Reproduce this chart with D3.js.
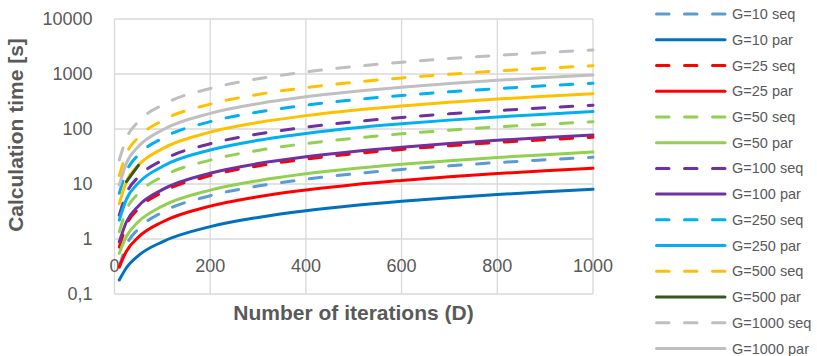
<!DOCTYPE html>
<html>
<head>
<meta charset="utf-8">
<script src="https://cdn.jsdelivr.net/npm/d3@7"></script>
<style>
  body { margin: 0; background: #fff; }
  svg { display: block; font-family: 'Liberation Sans', Arial, sans-serif; }
</style>
</head>
<body>
<div id="chart"></div>
<script>
// iterations D
const iterations = [10, 25, 50, 100, 200, 300, 400, 500, 600, 700, 800, 900, 1000];

const g10seq = [0.31, 0.77, 1.53, 3.06, 6.12, 9.18, 12.2, 15.3, 18.4, 21.4, 24.5, 27.5, 30.6];
const g10par = [0.18, 0.3, 0.5, 0.89, 1.68, 2.47, 3.26, 4.05, 4.84, 5.63, 6.42, 7.21, 8.0];
const g25seq = [0.71, 1.78, 3.55, 7.1, 14.2, 21.3, 28.4, 35.5, 42.6, 49.7, 56.8, 63.9, 71];
const g25par = [0.31, 0.6, 1.08, 2.04, 3.96, 5.88, 7.8, 9.72, 11.6, 13.6, 15.5, 17.4, 19.3];
const g50seq = [1.36, 3.4, 6.8, 13.6, 27.2, 40.8, 54.4, 68, 81.6, 95.2, 109, 122, 136];
const g50par = [0.55, 1.12, 2.06, 3.95, 7.73, 11.5, 15.3, 19.1, 22.9, 26.6, 30.4, 34.2, 38];
const g100seq = [2.7, 6.75, 13.5, 27, 54, 81, 108, 135, 162, 189, 216, 243, 270];
const g100par = [0.89, 2.06, 4.0, 7.9, 15.7, 23.5, 31.3, 39.1, 46.8, 54.6, 62.4, 70.2, 78];
const g250seq = [6.8, 17, 33.9, 67.8, 136, 203, 271, 339, 407, 475, 542, 610, 678];
const g250par = [2.2, 5.3, 10.4, 20.8, 41.5, 62.2, 82.9, 104, 124, 145, 166, 186, 207];
const g500seq = [14.2, 35.4, 70.8, 142, 283, 425, 566, 708, 849, 991, 1132, 1274, 1415];
const g500par = [4.4, 11, 21.9, 43.8, 87.6, 131, 175, 219, 263, 307, 350, 394, 438];
const g1000seq = [27.3, 68, 137, 273, 546, 819, 1092, 1365, 1638, 1911, 2184, 2457, 2730];
const g1000par = [9.6, 24, 48, 96, 192, 288, 384, 480, 576, 672, 768, 864, 960];

// G=500 par: points 1..2 are drawn in the legend colour, the rest in orange
const g500parGreenPoints = [1, 2];

const xTicks = [0, 200, 400, 600, 800, 1000];
const yTicks = [0.1, 1, 10, 100, 1000, 10000];

const series = [
  { name: 'G=10 seq', values: g10seq, color: '#5B9BD5', dashed: true },
  { name: 'G=10 par', values: g10par, color: '#0070C0', dashed: false },
  { name: 'G=25 seq', values: g25seq, color: '#FF0000', dashed: true },
  { name: 'G=25 par', values: g25par, color: '#FF0000', dashed: false },
  { name: 'G=50 seq', values: g50seq, color: '#92D050', dashed: true },
  { name: 'G=50 par', values: g50par, color: '#92D050', dashed: false },
  { name: 'G=100 seq', values: g100seq, color: '#7030A0', dashed: true },
  { name: 'G=100 par', values: g100par, color: '#7030A0', dashed: false },
  { name: 'G=250 seq', values: g250seq, color: '#00B0F0', dashed: true },
  { name: 'G=250 par', values: g250par, color: '#00B0F0', dashed: false },
  { name: 'G=500 seq', values: g500seq, color: '#FFC000', dashed: true },
  { name: 'G=500 par', values: g500par, color: '#375623', lineColor: '#FFC000', dashed: false, greenPts: g500parGreenPoints },
  { name: 'G=1000 seq', values: g1000seq, color: '#BFBFBF', dashed: true },
  { name: 'G=1000 par', values: g1000par, color: '#BFBFBF', dashed: false },
];

const width = 817;
const height = 356;
const plot = { left: 114.5, right: 593, top: 19, bottom: 294 };
const textColor = '#595959';
const gridColor = '#D9D9D9';
const dash = '12.5 15.5';

const svg = d3.select('#chart').append('svg').attr('width', width).attr('height', height);

const x = d3.scaleLinear().domain([0, 1000]).range([plot.left, plot.right]);
const y = d3.scaleLog().domain([0.1, 10000]).range([plot.bottom, plot.top]);

// gridlines
svg.append('g')
  .selectAll('line')
  .data(yTicks)
  .join('line')
  .attr('x1', plot.left)
  .attr('x2', plot.right)
  .attr('y1', (d) => y(d))
  .attr('y2', (d) => y(d))
  .attr('stroke', gridColor)
  .attr('stroke-width', 1.3);

svg.append('g')
  .selectAll('line')
  .data(xTicks)
  .join('line')
  .attr('x1', (d) => x(d))
  .attr('x2', (d) => x(d))
  .attr('y1', plot.top)
  .attr('y2', plot.bottom)
  .attr('stroke', gridColor)
  .attr('stroke-width', 1.3);

// y axis labels
const fmt = (d) => (d < 1 ? String(d).replace('.', ',') : d3.format('d')(d));
svg.append('g')
  .selectAll('text')
  .data(yTicks)
  .join('text')
  .attr('x', 92.5)
  .attr('y', (d) => y(d))
  .attr('dy', '0.35em')
  .attr('text-anchor', 'end')
  .attr('fill', textColor)
  .style('font-size', '18px')
  .text(fmt);

// x axis labels sit next to the axis crossing at 1
svg.append('g')
  .selectAll('text')
  .data(xTicks)
  .join('text')
  .attr('x', (d) => x(d))
  .attr('y', y(1) + 27)
  .attr('dy', '0.35em')
  .attr('text-anchor', 'middle')
  .attr('fill', textColor)
  .style('font-size', '18px')
  .text((d) => d);

// axis titles
svg.append('text')
  .attr('transform', 'translate(16,135) rotate(-90)')
  .attr('text-anchor', 'middle')
  .attr('dy', '0.35em')
  .attr('fill', textColor)
  .style('font-size', '21px')
  .style('font-weight', 'bold')
  .text('Calculation time [s]');

svg.append('text')
  .attr('x', 353.5)
  .attr('y', 313)
  .attr('dy', '0.35em')
  .attr('text-anchor', 'middle')
  .attr('fill', textColor)
  .style('font-size', '21px')
  .style('font-weight', 'bold')
  .text('Number of iterations (D)');

// lines
const line = d3.line()
  .x((d) => x(d[0]))
  .y((d) => y(d[1]))
  .curve(d3.curveMonotoneX);

const lines = svg.append('g').attr('fill', 'none');
series.forEach((s) => {
  const pts = iterations.map((d, i) => [d, s.values[i]]);
  lines.append('path')
    .attr('d', line(pts))
    .attr('stroke', s.lineColor || s.color)
    .attr('stroke-width', 3)
    .attr('stroke-linecap', 'round')
    .attr('stroke-dasharray', s.dashed ? dash : null);
  if (s.greenPts) {
    const seg = pts.slice(s.greenPts[0], s.greenPts[s.greenPts.length - 1] + 1);
    lines.append('path')
      .attr('d', line(seg))
      .attr('stroke', s.color)
      .attr('stroke-width', 3)
      .attr('stroke-linecap', 'round');
  }
});

// legend
const legend = svg.append('g');
const itemY = d3.scaleLinear().domain([0, series.length - 1]).range([14, 348.5]);
series.forEach((s, i) => {
  const yy = itemY(i);
  legend.append('line')
    .attr('x1', 656.5)
    .attr('x2', 725)
    .attr('y1', yy)
    .attr('y2', yy)
    .attr('stroke', s.color)
    .attr('stroke-width', 3)
    .attr('stroke-linecap', 'round')
    .attr('stroke-dasharray', s.dashed ? dash : null);
  legend.append('text')
    .attr('x', 732)
    .attr('y', yy)
    .attr('dy', '0.35em')
    .attr('fill', textColor)
    .style('font-size', '14.5px')
    .text(s.name);
});
</script>
</body>
</html>
